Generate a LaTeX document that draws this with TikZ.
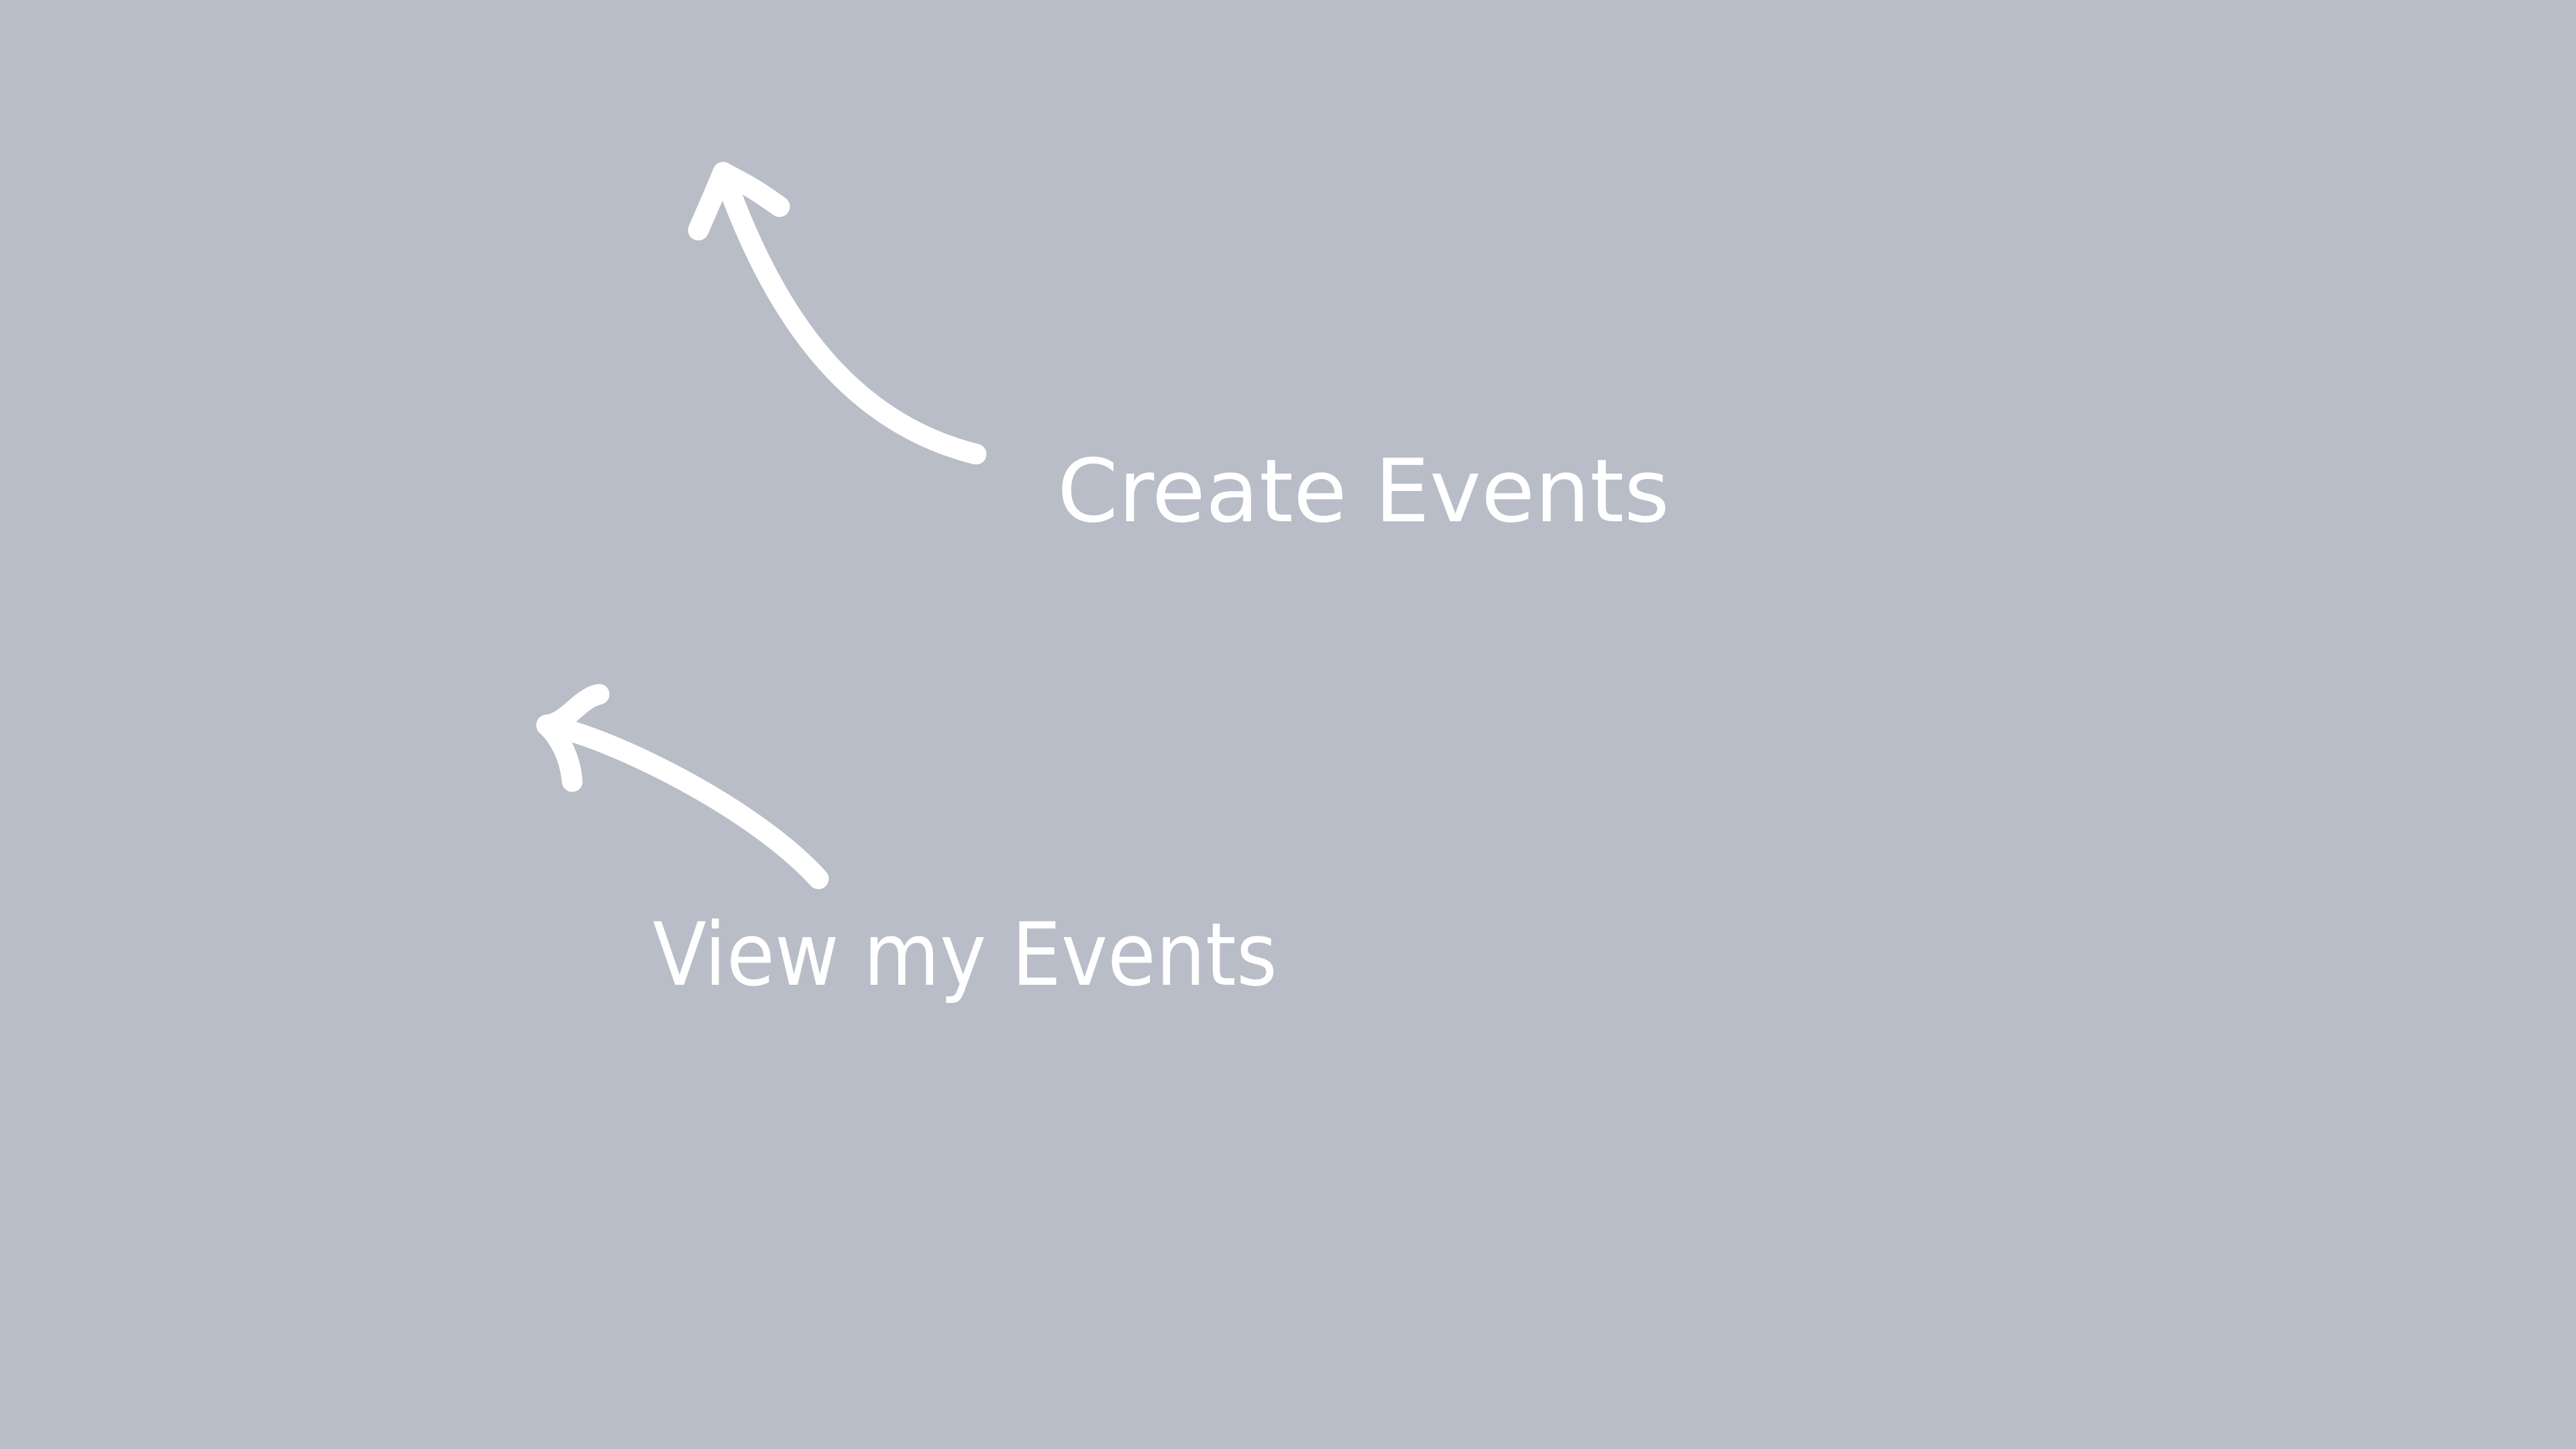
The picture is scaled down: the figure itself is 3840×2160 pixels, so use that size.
\documentclass[tikz,border=0pt]{standalone}
\usepackage{fontspec}
\setmainfont{DejaVu Sans}
\newfontfamily\narrowhand[FakeStretch=0.9]{DejaVu Sans}
\usetikzlibrary{positioning,calc}
\definecolor{slate}{RGB}{185,189,200}
\tikzstyle{hand}=[draw=white, line width=4.4pt, line cap=round, line join=round]
\tikzstyle{hand text}=[text=white, inner sep=0pt, font=\fontsize{18.5}{22}\selectfont]

\begin{document}
\begin{tikzpicture}[x=0.005cm, y=-0.005cm]
\fill[slate] (0,0) rectangle (3840,2160);

\draw (1575,778) node[hand text, anchor=base west] (CreateTxt) {Create Events};
\draw (972,1469) node[hand text, anchor=base west] (ViewTxt) {\narrowhand View my Events};

% upper arrow
\draw (CreateTxt.base west) ++(-120,-101) coordinate (CreateTail);
\coordinate (CreateTip) at (1078,257);
\draw[hand] (CreateTail) .. controls (1255,627) and (1148,455) .. (CreateTip);
\draw[hand] (CreateTip) .. controls (1062,295) .. (1041,343);
\draw[hand] (CreateTip) .. controls (1125,282) .. (1162,308);

% lower arrow
\draw (ViewTxt.base west) ++(248,-159) coordinate (ViewTail);
\coordinate (ViewTip) at (815,1081);
\draw[hand] (ViewTail) .. controls (1120,1200) and (900,1095) .. (ViewTip);
\draw[hand] (ViewTip) .. controls (845,1078) and (865,1040) .. (893,1035);
\draw[hand] (ViewTip) .. controls (835,1100) and (850,1130) .. (853,1165);

\end{tikzpicture}
\end{document}
